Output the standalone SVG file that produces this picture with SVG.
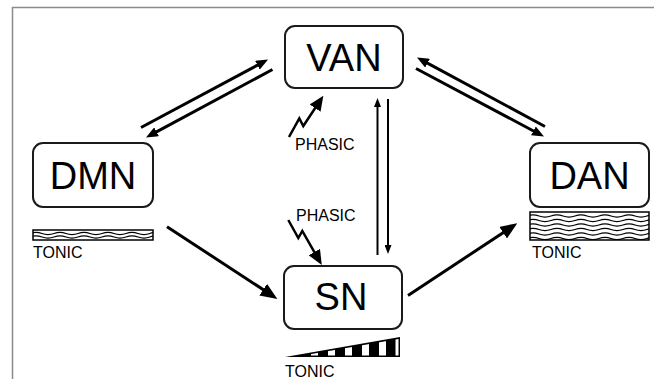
<svg xmlns="http://www.w3.org/2000/svg" width="654" height="379" viewBox="0 0 654 379">
<style>
.box{fill:#fff;stroke:#1a1a1a;stroke-width:2}
.big{font-family:"Liberation Sans",Arial,sans-serif;font-size:38px;fill:#000;text-anchor:middle}
.lbl{font-family:"Liberation Sans",Arial,sans-serif;font-size:16px;fill:#000}
.ln{stroke:#000;stroke-width:3;fill:none}
.thin{stroke:#000;stroke-width:2;fill:none}
.zz{stroke:#000;stroke-width:2.5;fill:none;stroke-linejoin:miter}
.wv{stroke:#000;stroke-width:1.3;fill:none}
</style>
<defs>
<marker id="mh" markerUnits="userSpaceOnUse" markerWidth="12" markerHeight="10" refX="7" refY="5" orient="auto"><path d="M0,0 L12,5 L0,10 z" fill="#000"/></marker>
<marker id="bh" markerUnits="userSpaceOnUse" markerWidth="17" markerHeight="14" refX="9" refY="7" orient="auto"><path d="M0,0 L17,7 L0,14 z" fill="#000"/></marker>
<marker id="sh" markerUnits="userSpaceOnUse" markerWidth="9" markerHeight="7" refX="5" refY="3.5" orient="auto"><path d="M0,0 L9,3.5 L0,7 z" fill="#000"/></marker>
<marker id="zh" markerUnits="userSpaceOnUse" markerWidth="15" markerHeight="13" refX="8" refY="6.5" orient="auto"><path d="M0,0 L15,6.5 L0,13 z" fill="#000"/></marker>
<path id="wave" d="M0,0 q6,-2.2 12,0 t12,0 t12,0 t12,0 t12,0 t12,0 t12,0 t12,0 t12,0 t12,0 t12,0"/>
<clipPath id="c1"><rect x="33" y="230" width="120" height="10"/></clipPath>
<clipPath id="c2"><rect x="530" y="212" width="119" height="28"/></clipPath>
<clipPath id="c3"><polygon points="302.8,355.5 398.5,355.5 398.5,338.9"/></clipPath>
</defs>
<rect x="12.5" y="7.5" width="700" height="400" fill="#fff" stroke="#8a8a8a" stroke-width="1.5"/>

<g id="connectors">
<line class="ln" x1="141" y1="127.5" x2="263.6" y2="61.9" marker-end="url(#mh)"/>
<line class="ln" x1="272.5" y1="69.5" x2="150.4" y2="135.1" marker-end="url(#mh)"/>
<line class="ln" x1="545" y1="126.5" x2="421.4" y2="59.9" marker-end="url(#mh)"/>
<line class="ln" x1="416" y1="68.5" x2="539.6" y2="134.2" marker-end="url(#mh)"/>
<line class="thin" x1="377.5" y1="255" x2="377.5" y2="102" marker-end="url(#sh)"/>
<line class="thin" x1="388" y1="99" x2="388" y2="250" marker-end="url(#sh)"/>
<line class="ln" x1="167" y1="226.7" x2="270.7" y2="294.6" marker-end="url(#bh)"/>
<line class="ln" x1="408" y1="295.5" x2="510.6" y2="227.7" marker-end="url(#bh)"/>
<polyline class="zz" points="289,137 299.3,118.3 303.3,126 319.5,101.5" marker-end="url(#zh)"/>
<polyline class="zz" points="288.3,220 298.3,238 302.3,231 318.3,259" marker-end="url(#zh)"/>
</g>

<g id="VAN">
<rect class="box" x="285" y="26" width="118" height="62" rx="10"/>
<text class="big" x="344" y="71">VAN</text>
</g>
<g id="DMN">
<rect class="box" x="33" y="143" width="120" height="64" rx="10"/>
<text class="big" x="93" y="189">DMN</text>
<rect x="33" y="230" width="120" height="10" fill="#fff" stroke="#000" stroke-width="1.5"/>
<g clip-path="url(#c1)" class="wv">
<use href="#wave" x="30" y="233.5"/>
<use href="#wave" x="30" y="237"/>
</g>
<text class="lbl" x="33" y="258">TONIC</text>
</g>
<g id="DAN">
<rect class="box" x="530" y="143" width="119" height="64" rx="10"/>
<text class="big" x="589.5" y="189">DAN</text>
<rect x="530" y="212" width="119" height="28" fill="#fff" stroke="#000" stroke-width="1.5"/>
<g clip-path="url(#c2)" class="wv">
<use href="#wave" x="527" y="216"/>
<use href="#wave" x="527" y="220.5"/>
<use href="#wave" x="527" y="225"/>
<use href="#wave" x="527" y="229.5"/>
<use href="#wave" x="527" y="234"/>
<use href="#wave" x="527" y="238.5"/>
</g>
<text class="lbl" x="532" y="258">TONIC</text>
</g>
<g id="SN">
<rect class="box" x="284" y="266" width="118" height="63" rx="10"/>
<text class="big" x="341" y="310">SN</text>
<polygon points="285,357 400,357 400,337" fill="#000"/>
<g clip-path="url(#c3)" fill="#fff">
<rect x="294" y="330" width="7" height="30"/>
<rect x="311" y="330" width="7" height="30"/>
<rect x="328" y="330" width="7" height="30"/>
<rect x="345" y="330" width="7" height="30"/>
<rect x="362" y="330" width="7" height="30"/>
<rect x="379" y="330" width="7" height="30"/>
<rect x="395.5" y="330" width="7" height="30"/>
</g>
<text class="lbl" x="285" y="377">TONIC</text>
</g>
<g id="phasic">
<text class="lbl" x="295" y="150">PHASIC</text>
<text class="lbl" x="296" y="221">PHASIC</text>
</g>
</svg>
